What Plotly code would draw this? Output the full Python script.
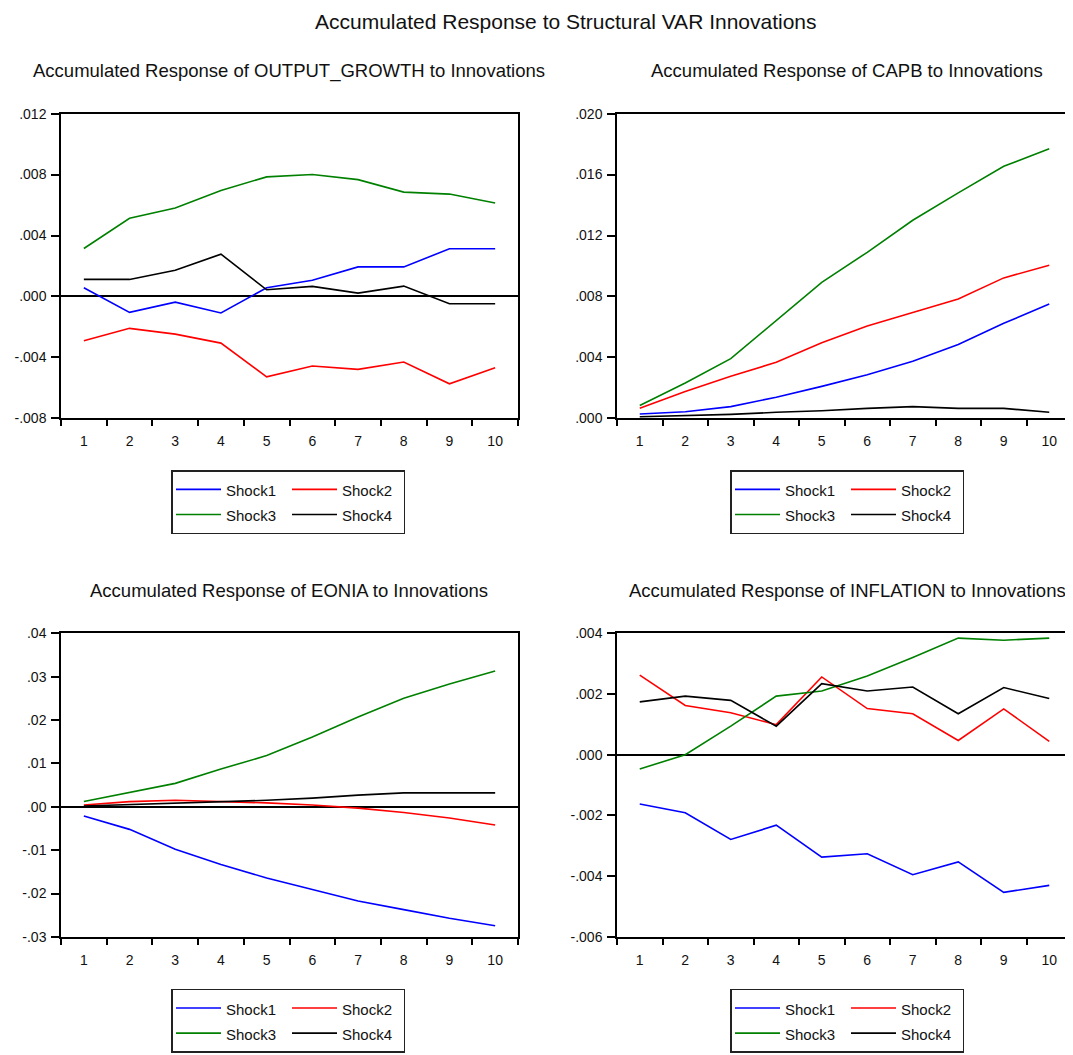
import plotly.graph_objects as go

# ---------------- data ----------------
periods = [1, 2, 3, 4, 5, 6, 7, 8, 9, 10]
shock_names = ["Shock1", "Shock2", "Shock3", "Shock4"]
shock_colors = ["#0000FF", "#FF0000", "#008000", "#000000"]

og_shock1 = [0.00057, -0.00104, -0.00037, -0.00108, 0.00057, 0.00106, 0.00194, 0.00194, 0.00313, 0.00313]
og_shock2 = [-0.00291, -0.00209, -0.00247, -0.00306, -0.00527, -0.00456, -0.00478, -0.00430, -0.00573, -0.00467]
og_shock3 = [0.00315, 0.00513, 0.00580, 0.00696, 0.00785, 0.00800, 0.00767, 0.00685, 0.00672, 0.00613]
og_shock4 = [0.00112, 0.00112, 0.00172, 0.00278, 0.00044, 0.00066, 0.00022, 0.00068, -0.00048, -0.00048]

capb_shock1 = [0.00029, 0.00044, 0.00077, 0.00139, 0.00210, 0.00287, 0.00375, 0.00485, 0.00624, 0.00750]
capb_shock2 = [0.00066, 0.00176, 0.00276, 0.00368, 0.00496, 0.00606, 0.00695, 0.00783, 0.00922, 0.01005]
capb_shock3 = [0.00084, 0.00232, 0.00392, 0.00640, 0.00893, 0.01090, 0.01300, 0.01480, 0.01654, 0.01770]
capb_shock4 = [0.00011, 0.00018, 0.00026, 0.00040, 0.00050, 0.00066, 0.00077, 0.00066, 0.00066, 0.00040]

eonia_shock1 = [-0.0021, -0.0052, -0.0098, -0.0133, -0.0164, -0.0191, -0.0217, -0.0237, -0.0257, -0.0274]
eonia_shock2 = [0.0004, 0.0012, 0.0015, 0.0012, 0.0009, 0.0004, -0.0003, -0.0013, -0.0026, -0.0042]
eonia_shock3 = [0.0012, 0.0033, 0.0054, 0.0087, 0.0118, 0.0161, 0.0207, 0.0250, 0.0283, 0.0313]
eonia_shock4 = [0.0002, 0.0005, 0.0008, 0.0012, 0.0015, 0.0020, 0.0027, 0.0032, 0.0032, 0.0032]

infl_shock1 = [-0.00162, -0.00191, -0.00279, -0.00232, -0.00337, -0.00326, -0.00395, -0.00353, -0.00453, -0.00430]
infl_shock2 = [0.00262, 0.00162, 0.00138, 0.00099, 0.00256, 0.00152, 0.00135, 0.00047, 0.00151, 0.00044]
infl_shock3 = [-0.00047, 0.00000, 0.00094, 0.00193, 0.00210, 0.00259, 0.00320, 0.00384, 0.00377, 0.00384]
infl_shock4 = [0.00174, 0.00193, 0.00179, 0.00094, 0.00234, 0.00210, 0.00223, 0.00135, 0.00221, 0.00185]

og_yticks = [-0.008, -0.004, 0.0, 0.004, 0.008, 0.012]
og_ylabels = ["-.008", "-.004", ".000", ".004", ".008", ".012"]
capb_yticks = [0.0, 0.004, 0.008, 0.012, 0.016, 0.020]
capb_ylabels = [".000", ".004", ".008", ".012", ".016", ".020"]
eonia_yticks = [-0.03, -0.02, -0.01, 0.0, 0.01, 0.02, 0.03, 0.04]
eonia_ylabels = ["-.03", "-.02", "-.01", ".00", ".01", ".02", ".03", ".04"]
infl_yticks = [-0.006, -0.004, -0.002, 0.0, 0.002, 0.004]
infl_ylabels = ["-.006", "-.004", "-.002", ".000", ".002", ".004"]

main_title = "Accumulated Response to Structural VAR Innovations"
panel_titles = [
    "Accumulated Response of OUTPUT_GROWTH to Innovations",
    "Accumulated Response of CAPB to Innovations",
    "Accumulated Response of EONIA to Innovations",
    "Accumulated Response of INFLATION to Innovations",
]

panels = [
    dict(series=[og_shock1, og_shock2, og_shock3, og_shock4], yticks=og_yticks, ylabels=og_ylabels),
    dict(series=[capb_shock1, capb_shock2, capb_shock3, capb_shock4], yticks=capb_yticks, ylabels=capb_ylabels),
    dict(series=[eonia_shock1, eonia_shock2, eonia_shock3, eonia_shock4], yticks=eonia_yticks, ylabels=eonia_ylabels),
    dict(series=[infl_shock1, infl_shock2, infl_shock3, infl_shock4], yticks=infl_yticks, ylabels=infl_ylabels),
]

# ---------------- layout geometry ----------------
W, H = 1073, 1055
FONT = "Liberation Sans, Arial, sans-serif"


def px_x(v):
    # page offset compensation (horizontal)
    return (v - 8) / W


def px_y(v):
    # page offset/scale compensation (vertical), returns paper fraction
    return 1 - ((v - 14.3) / 0.9856) / H


# target screen pixels
x_dom = [(61, 518), (617, 1081), (61, 518), (617, 1081)]
x_rng = [(0.5, 10.5), (0.5, 10.5 + (1081 - 617 - 455) / 45.5),
         (0.5, 10.5), (0.5, 10.5 + (1081 - 617 - 455) / 45.5)]
y_dom = [(112, 417), (112, 417), (632, 936), (632, 936)]
title_y = [69, 69, 589, 589]
title_cx = [289, 847, 289, 847]
legend_top = [469, 469, 988, 988]
legend_cx = [288, 847, 288, 847]

fig = go.Figure()
layout = dict(
    width=W, height=H, autosize=False,
    margin=dict(l=0, r=0, t=0, b=0),
    paper_bgcolor="white", plot_bgcolor="white",
    font=dict(family=FONT, size=14, color="#111111"),
    showlegend=True,
)
annotations = []

for i, p in enumerate(panels):
    n = i + 1
    xa = "x" if n == 1 else f"x{n}"
    ya = "y" if n == 1 else f"y{n}"
    lg = "legend" if n == 1 else f"legend{n}"
    for k in range(4):
        fig.add_trace(go.Scatter(
            x=periods, y=p["series"][k], mode="lines",
            line=dict(color=shock_colors[k], width=1.6),
            name='<span style="font-size:15px">' + shock_names[k] + "</span>",
            legendgroup=f"p{n}c{k % 2}",
            xaxis=xa, yaxis=ya, legend=lg, hoverinfo="skip",
        ))
    x0, x1 = x_dom[i]
    y0, y1 = y_dom[i]
    left = i % 2 == 0
    layout["xaxis" if n == 1 else f"xaxis{n}"] = dict(
        domain=[max(px_x(x0), 0), min(px_x(x1), 1)], anchor=ya,
        range=list(x_rng[i]), tickmode="linear", tick0=1, dtick=1,
        ticks="outside", ticklen=9, tickcolor="rgba(0,0,0,0)",
        minor=dict(tick0=0.5, dtick=1, ticks="outside", ticklen=6, tickwidth=1.5, tickcolor="black"),
        showline=True, linecolor="black", linewidth=1.5, mirror=True,
        showgrid=False, zeroline=False, fixedrange=True,
        tickfont=dict(family=FONT, size=14, color="#111111"),
    )
    layout["yaxis" if n == 1 else f"yaxis{n}"] = dict(
        domain=[px_y(y1), px_y(y0)], anchor=xa,
        range=[p["yticks"][0], p["yticks"][-1]],
        tickmode="array", tickvals=p["yticks"], ticktext=p["ylabels"],
        ticks="outside", ticklen=8, tickwidth=1.5, tickcolor="black",
        ticklabelstandoff=2,
        showline=True, linecolor="black", linewidth=1.5, mirror=True if left else False,
        showgrid=False, zeroline=True, zerolinecolor="black", zerolinewidth=1.5,
        fixedrange=True,
        tickfont=dict(family=FONT, size=14, color="#111111"),
    )
    layout[lg] = dict(
        orientation="h", traceorder="grouped",
        x=px_x(legend_cx[i]), xanchor="center",
        y=px_y(legend_top[i]), yanchor="top",
        bgcolor="white", bordercolor="#222222", borderwidth=1.5,
        font=dict(family=FONT, size=17, color="#111111"),
        entrywidth=56, entrywidthmode="pixels", itemwidth=45,
        tracegroupgap=0,
    )
    annotations.append(dict(
        text=panel_titles[i], xref="paper", yref="paper",
        x=px_x(title_cx[i]), y=px_y(title_y[i]),
        xanchor="center", yanchor="middle", showarrow=False,
        font=dict(family=FONT, size=18.5, color="#111111"),
    ))

annotations.append(dict(
    text=main_title, xref="paper", yref="paper",
    x=px_x(566), y=px_y(20), xanchor="center", yanchor="middle", showarrow=False,
    font=dict(family=FONT, size=21, color="#111111"),
))
layout["annotations"] = annotations
fig.update_layout(**layout)
fig.write_html("out.html")
